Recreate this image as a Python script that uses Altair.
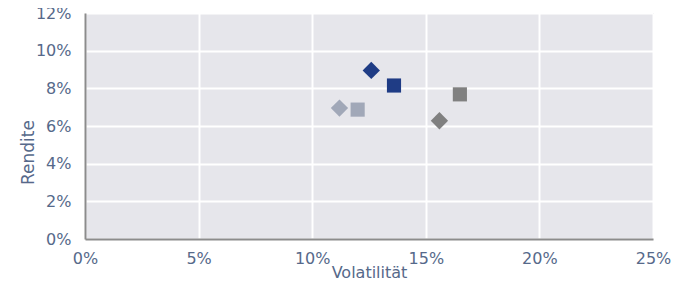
import altair as alt
import pandas as pd

volatility = [12.6, 13.6, 11.2, 12.0, 16.5, 15.6]
returns = [8.95, 8.15, 6.95, 6.87, 7.68, 6.28]
series = ["A1", "A2", "B1", "B2", "C1", "C2"]
shapes = ["diamond", "square", "diamond", "square", "square", "diamond"]
colors = ["#1f3c85", "#1f3c85", "#a1a8b8", "#a1a8b8", "#808080", "#808080"]
sizes = [300, 200, 300, 200, 200, 300]

df = pd.DataFrame({
    "vol": [v / 100 for v in volatility],
    "ret": [r / 100 for r in returns],
    "series": series,
    "shape": shapes,
    "color": colors,
    "size": sizes,
})

label_color = "#56698a"
font = "DejaVu Sans"

chart = alt.Chart(df).mark_point(filled=True, opacity=1).encode(
    x=alt.X("vol:Q", scale=alt.Scale(domain=[0, 0.25], nice=False),
            axis=alt.Axis(title="Volatilität", format=".0%", values=[0, 0.05, 0.1, 0.15, 0.2, 0.25],
                          grid=True, gridColor="white", gridWidth=2, ticks=False, labelFlush=False,
                          domainColor="#8c8c8c", domainWidth=2, labelPadding=11,
                          titleBaseline="alphabetic", titleAlign="center", titleX=284, titleY=38,
                          titleFontSize=16)),
    y=alt.Y("ret:Q", scale=alt.Scale(domain=[0, 0.12], nice=False),
            axis=alt.Axis(title="Rendite", format=".0%", values=[0, 0.02, 0.04, 0.06, 0.08, 0.1, 0.12],
                          grid=True, gridColor="white", gridWidth=2, ticks=False, labelFlush=False,
                          domainColor="#8c8c8c", domainWidth=2, labelPadding=14,
                          titleBaseline="alphabetic", titleAlign="center", titleAngle=270,
                          titleX=-52, titleY=139, titleFontSize=17)),
    shape=alt.Shape("shape:N", scale=None),
    color=alt.Color("color:N", scale=None),
    size=alt.Size("size:Q", scale=None),
).properties(
    width=568, height=226,
    autosize=alt.AutoSizeParams(type="none"),
    padding={"left": 77, "top": 5, "right": 23, "bottom": 39},
).configure_view(
    fill="#e6e6eb", stroke="#d6d6dc", strokeWidth=1
).configure_axis(
    labelFont=font, labelFontSize=16, labelColor=label_color,
    titleFont=font, titleColor=label_color, titleFontWeight="normal",
)

chart.save("out.html", embed_options={"renderer": "svg", "actions": False})
